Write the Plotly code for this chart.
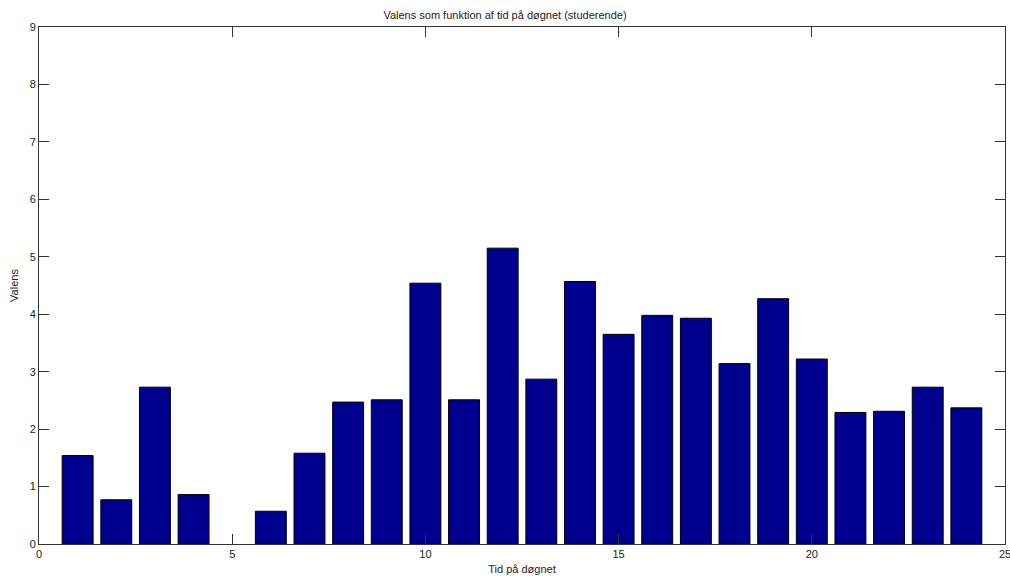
import plotly.graph_objects as go

hours = list(range(1, 25))
valens = [1.54, 0.77, 2.73, 0.86, 0.0, 0.57, 1.58, 2.47, 2.51, 4.54, 2.51, 5.15,
          2.87, 4.57, 3.65, 3.98, 3.93, 3.14, 4.27, 3.22, 2.29, 2.31, 2.73, 2.37]

title_text = "Valens som funktion af tid på døgnet (studerende)"
x_label = "Tid på døgnet"
y_label = "Valens"
x_ticks = [0, 5, 10, 15, 20, 25]
y_ticks = list(range(0, 10))

edge_widths = [0 if v == 0 else 1 for v in valens]

fig = go.Figure(go.Bar(
    x=hours, y=valens, width=0.8,
    marker=dict(color="rgb(0,0,143)", line=dict(color="black", width=edge_widths)),
))

font = dict(family="Liberation Sans, Arial, sans-serif", size=11, color="#222")

fig.update_layout(
    width=1010, height=579,
    margin=dict(l=39, r=5, t=27, b=35),
    paper_bgcolor="white", plot_bgcolor="white",
    font=font,
    showlegend=False,
    title=dict(text=title_text, x=0.5, xanchor="center", y=1 - 15 / 579,
               yanchor="middle", yref="container", font=dict(size=11, color="#222")),
    xaxis=dict(range=[0, 25], tickvals=x_ticks, ticktext=[str(v) for v in x_ticks],
               showline=True, linecolor="#333", linewidth=1, mirror="ticks",
               ticks="inside", ticklen=10, tickcolor="#333", showgrid=False, zeroline=False,
               ticklabeloverflow="allow", automargin=False,
               title=dict(text=x_label, standoff=6, font=dict(size=11))),
    yaxis=dict(range=[0, 9], tickvals=y_ticks,
               showline=True, linecolor="#333", linewidth=1, mirror="ticks",
               ticks="inside", ticklen=10, tickcolor="#333", showgrid=False, zeroline=False,
               automargin=False,
               title=dict(text=y_label, standoff=8, font=dict(size=11))),
    bargap=0.2,
)

fig.write_html("out.html")
